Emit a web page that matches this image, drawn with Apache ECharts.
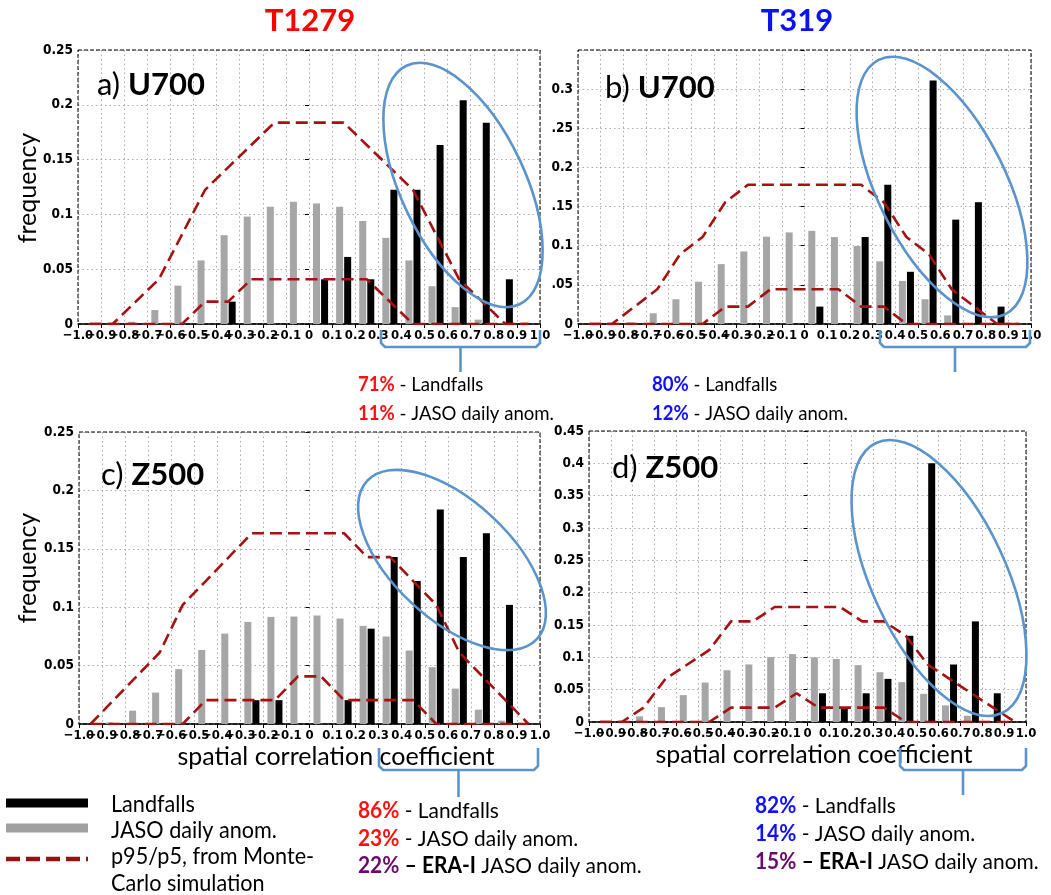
<!DOCTYPE html>
<html><head><meta charset="utf-8">
<script src="https://cdn.jsdelivr.net/npm/echarts@6/dist/echarts.min.js"></script>
<style>html,body{margin:0;padding:0;background:#fff}#c{width:1051px;height:895px}</style>
</head><body><div id="c"></div>
<script>
// ---- data ----
const binCenters = [-0.95,-0.85,-0.75,-0.65,-0.55,-0.45,-0.35,-0.25,-0.15,-0.05,0.05,0.15,0.25,0.35,0.45,0.55,0.65,0.75,0.85,0.95];

const grayA  = [0,0,0.002,0.0127,0.035,0.058,0.081,0.098,0.107,0.1115,0.110,0.107,0.094,0.0786,0.058,0.0345,0.0154,0.004,0.0005,0];
const blackA = [0,0,0,0,0,0,0.0204,0,0,0,0.0408,0.0612,0.0408,0.1224,0.1224,0.1633,0.2041,0.1837,0.0408,0];
const upperA = [0,0,0.0204,0.0408,0.0816,0.1224,0.1429,0.1633,0.1837,0.1837,0.1837,0.1837,0.1633,0.1429,0.1224,0.0816,0.0408,0.0204,0,0];
const lowerA = [0,0,0,0,0,0.0204,0.0204,0.0408,0.0408,0.0408,0.0408,0.0408,0.0408,0.0204,0,0,0,0,0,0];

const grayB  = [0,0,0.002,0.0137,0.0316,0.054,0.0765,0.0927,0.1115,0.117,0.119,0.111,0.0996,0.080,0.055,0.0316,0.011,0.001,0,0];
const blackB = [0,0,0,0,0,0,0,0,0,0,0.0222,0,0.1111,0.1778,0.0667,0.3111,0.1333,0.1556,0.0222,0];
const upperB = [0,0,0.0222,0.0444,0.0889,0.1111,0.1556,0.1778,0.1778,0.1778,0.1778,0.1778,0.1778,0.1556,0.1111,0.0889,0.0444,0.0222,0,0];
const lowerB = [0,0,0,0,0,0,0.0222,0.0222,0.0444,0.0444,0.0444,0.0444,0.0222,0.0222,0,0,0,0,0,0];

const grayC  = [0,0.0014,0.0114,0.0269,0.047,0.0634,0.0774,0.0874,0.0917,0.092,0.0929,0.0903,0.084,0.0749,0.0629,0.0486,0.0303,0.0123,0.0029,0];
const blackC = [0,0,0,0,0,0,0,0.0204,0.0204,0,0,0.0204,0.0816,0.1429,0.1224,0.1837,0.1429,0.1633,0.1020,0];
const upperC = [0,0.0204,0.0408,0.0612,0.1020,0.1224,0.1429,0.1633,0.1633,0.1633,0.1633,0.1633,0.1429,0.1429,0.1224,0.1020,0.0612,0.0408,0.0204,0];
const lowerC = [0,0,0,0,0,0.0204,0.0204,0.0204,0.0204,0.0408,0.0408,0.0204,0.0204,0.0204,0.0204,0,0,0,0,0];

const grayD  = [0,0,0.0087,0.023,0.0416,0.061,0.080,0.089,0.1006,0.105,0.100,0.0975,0.088,0.077,0.0616,0.0436,0.0257,0.0097,0,0];
const blackD = [0,0,0,0,0,0,0,0,0,0,0.0444,0.0222,0.0444,0.0667,0.1333,0.4,0.0889,0.1556,0.0444,0];
const upperD = [0,0,0.0222,0.0667,0.0889,0.1111,0.1556,0.1556,0.1778,0.1778,0.1778,0.1778,0.1556,0.1556,0.1333,0.0889,0.0667,0.0444,0.0222,0];
const lowerD = [0,0,0,0,0,0,0.0222,0.0222,0.0222,0.0444,0.0222,0.0222,0.0222,0.0222,0,0,0,0,0,0];

const yMaxes = [0.25, 0.35, 0.25, 0.45];
const yTickLabelsB = {'0':'0','0.05':'.05','0.1':'0.1','0.15':'.15','0.2':'0.2','0.25':'.25','0.3':'0.3','0.35':''};

// ---- layout ----
const GRIDS = [
  {left:78, top:50, width:462, height:274},
  {left:578, top:50, width:453, height:274},
  {left:79, top:432, width:461, height:292},
  {left:589, top:431, width:437, height:291}
];
const AXFONT = "'Liberation Sans Narrow','DejaVu Sans Condensed','Arial Narrow',sans-serif";
const TXFONT = "Lato,'Open Sans','Noto Sans',sans-serif";
const RED_D = '#a51212';
const BLUE_E = '#5b93cd';

const panels = [
  {gray:grayA, black:blackA, up:upperA, lo:lowerA},
  {gray:grayB, black:blackB, up:upperB, lo:lowerB},
  {gray:grayC, black:blackC, up:upperC, lo:lowerC},
  {gray:grayD, black:blackD, up:upperD, lo:lowerD}
];

function xFmt(v){
  const r = Math.round(v*10)/10;
  if (r === 0) return '0';
  return (r < 0 ? '\u2212' : '') + Math.abs(r).toFixed(1);
}
const isEnd = v => Math.abs(Math.abs(v) - 1) < 1e-6;
const xLabelStyle = {fontFamily:AXFONT, fontWeight:'bold', fontSize:13, color:'#000', margin:5, hideOverlap:false};

const grid = [], xAxis = [], yAxis = [], series = [];
panels.forEach((p, k) => {
  grid.push(Object.assign({containLabel:false}, GRIDS[k]));
  xAxis.push({type:'category', gridIndex:k, position:'bottom', data:binCenters.map(String), show:false, boundaryGap:true});
  xAxis.push({type:'value', gridIndex:k, position:'bottom', min:-1, max:1, interval:0.1,
    axisLine:{show:true, onZero:false, lineStyle:{color:'#000', width:1.5}},
    axisTick:{show:true, length:4, lineStyle:{color:'#000', width:1}},
    axisLabel:Object.assign({formatter: v => isEnd(v) ? '' : xFmt(v)}, xLabelStyle),
    splitLine:{show:true, lineStyle:{color:'#aaa', type:[1.5,3], width:1}}});
  xAxis.push({type:'value', gridIndex:k, position:'bottom', min:-1, max:1, interval:0.1,
    axisLine:{show:false}, axisTick:{show:false}, splitLine:{show:false},
    axisLabel:Object.assign({formatter: v => isEnd(v) ? xFmt(v) : ''}, xLabelStyle)});
  yAxis.push({type:'value', gridIndex:k, min:0, max:yMaxes[k], interval:0.05,
    axisLine:{show:false}, axisTick:{show:true, length:4, lineStyle:{color:'#000'}},
    axisLabel:{fontFamily:AXFONT, fontWeight:'bold', fontSize:13.5, color:'#000', margin:5,
      formatter: v => { const s = String(Math.round(v*100)/100); return k===1 ? (yTickLabelsB[s] ?? s) : s; }},
    splitLine:{show:true, lineStyle:{color:'#aaa', type:[1.5,3], width:1}}});
  series.push({type:'bar', xAxisIndex:3*k, yAxisIndex:k, data:p.gray, barWidth:7, barGap:'15%', itemStyle:{color:'#a6a6a6'}, z:2, silent:true});
  series.push({type:'bar', xAxisIndex:3*k, yAxisIndex:k, data:p.black, barWidth:7, barGap:'15%', itemStyle:{color:'#000'}, z:2, silent:true});
  [p.up, p.lo].forEach(arr => series.push({type:'line', xAxisIndex:3*k+1, yAxisIndex:k,
    data: binCenters.map((c,i)=>[c, arr[i]]), symbol:'none', z:4, silent:true,
    lineStyle:{color:RED_D, width:2.6, type:[12,6]}}));
});

// ---- graphics ----
const gfx = [];
GRIDS.forEach(g => gfx.push({type:'rect', shape:{x:g.left, y:g.top, width:g.width, height:g.height},
  style:{fill:null, stroke:'#000', lineWidth:1, lineDash:[4,2]}, z:1, silent:true}));

function text(x, y, t, o){
  o = o || {};
  return {type:'text', x:x, y:y, rotation:o.rot||0, scaleX:o.sx||1, z:10, silent:true,
    style:{text:t, fill:o.fill||'#000', font:(o.weight||'normal')+' '+(o.size||20)+'px '+(o.family||TXFONT),
      align:o.align||'left', verticalAlign:'middle', rich:o.rich}};
}
gfx.push(text(310, 21, 'T1279', {size:31, weight:'bold', fill:'#ff0000', align:'center'}));
gfx.push(text(797, 21, 'T319', {size:31, weight:'bold', fill:'#0a14f0', align:'center'}));
const pl = (x,y,a,b) => text(x, y, '{n|'+a+'} {b|'+b+'}', {size:31, rich:{
  n:{fontFamily:TXFONT, fontSize:31, fontWeight:'normal', fill:'#000'},
  b:{fontFamily:TXFONT, fontSize:31, fontWeight:'bold', fill:'#000'}}});
gfx.push(pl(97, 85, 'a)', 'U700'));
gfx.push(pl(605, 88, 'b)', 'U700'));
gfx.push(pl(101, 475, 'c)', 'Z500'));
gfx.push(pl(612, 468, 'd)', 'Z500'));
gfx.push(text(28, 188, 'frequency', {size:25, rot:Math.PI/2, align:'center'}));
gfx.push(text(28, 568, 'frequency', {size:25, rot:Math.PI/2, align:'center'}));
gfx.push(text(336, 757, 'spatial correlation coefficient', {size:25, align:'center'}));
gfx.push(text(814, 755, 'spatial correlation coefficient', {size:25, align:'center'}));

function stat(x, y, pct, col, rest, size, sx, era){
  const rich = {p:{fontFamily:TXFONT, fontSize:size, fontWeight:'bold', fill:col},
                e:{fontFamily:TXFONT, fontSize:size, fontWeight:'bold', fill:'#000'},
                t:{fontFamily:TXFONT, fontSize:size, fontWeight:'normal', fill:'#000'}};
  const s = era ? '{p|'+pct+'}{t| }{e|\u2013 ERA-I}{t| '+rest+'}' : '{p|'+pct+'}{t| - '+rest+'}';
  return text(x, y, s, {size:size, rich:rich, sx:sx});
}
gfx.push(stat(358, 385, '71%', '#ff1010', 'Landfalls', 20, 0.93));
gfx.push(stat(358, 414, '11%', '#ff1010', 'JASO daily anom.', 20, 0.93));
gfx.push(stat(652, 385, '80%', '#1010ff', 'Landfalls', 20, 0.93));
gfx.push(stat(652, 414, '12%', '#1010ff', 'JASO daily anom.', 20, 0.93));
gfx.push(stat(358, 811, '86%', '#ff1010', 'Landfalls', 22, 0.95));
gfx.push(stat(358, 839, '23%', '#ff1010', 'JASO daily anom.', 22, 0.95));
gfx.push(stat(358, 866, '22%', '#6a0a6a', 'JASO daily anom.', 22, 0.95, true));
gfx.push(stat(755, 806, '82%', '#1010ff', 'Landfalls', 22, 0.95));
gfx.push(stat(755, 834, '14%', '#1010ff', 'JASO daily anom.', 22, 0.95));
gfx.push(stat(755, 862, '15%', '#6a0a6a', 'JASO daily anom.', 22, 0.95, true));

gfx.push({type:'line', shape:{x1:6, y1:803, x2:88, y2:803}, style:{stroke:'#000', lineWidth:9}, silent:true});
gfx.push({type:'line', shape:{x1:6, y1:828, x2:88, y2:828}, style:{stroke:'#a0a0a0', lineWidth:9}, silent:true});
gfx.push({type:'line', shape:{x1:6, y1:859, x2:88, y2:859}, style:{stroke:'#9a1010', lineWidth:4.5, lineDash:[14,6]}, silent:true});
gfx.push(text(111, 805, 'Landfalls', {size:23, sx:0.94}));
gfx.push(text(111, 831, 'JASO daily anom.', {size:23, sx:0.94}));
gfx.push(text(111, 857, 'p95/p5, from Monte-', {size:23, sx:0.94}));
gfx.push(text(111, 884, 'Carlo simulation', {size:23, sx:0.94}));

function ell(cx, cy, rx, ry, rotDeg){
  return {type:'ellipse', x:cx, y:cy, rotation:rotDeg*Math.PI/180, shape:{cx:0, cy:0, rx:rx, ry:ry},
    style:{fill:null, stroke:BLUE_E, lineWidth:2.6}, z:12, silent:true};
}
gfx.push(ell(463, 185, 62, 132, 25.4));
gfx.push(ell(942, 187, 64, 142, 26.5));
gfx.push(ell(452, 560, 59, 116, 47));
gfx.push(ell(939, 578, 67, 149, 25));

function bracket(x1, x2, yTop, yLine, yNotch){
  const xc = (x1+x2)/2;
  return [
    {type:'polyline', shape:{points:[[x1,yTop],[x1,yLine-4],[x1+4,yLine],[x2-4,yLine],[x2,yLine-4],[x2,yTop]]},
      style:{fill:null, stroke:BLUE_E, lineWidth:2.6}, z:12, silent:true},
    {type:'line', shape:{x1:xc, y1:yLine, x2:xc, y2:yNotch}, style:{stroke:BLUE_E, lineWidth:2.6}, z:12, silent:true}
  ];
}
gfx.push(...bracket(381, 540, 330, 347, 372));
gfx.push(...bracket(880, 1030, 330, 347, 372));
gfx.push(...bracket(379, 538, 748, 770, 797));
gfx.push(...bracket(900, 1026, 748, 770, 795));

const chart = echarts.init(document.getElementById('c'), null, {renderer:'canvas'});
chart.setOption({animation:false, backgroundColor:'#fff', grid, xAxis, yAxis, series, graphic:gfx});
</script></body></html>
